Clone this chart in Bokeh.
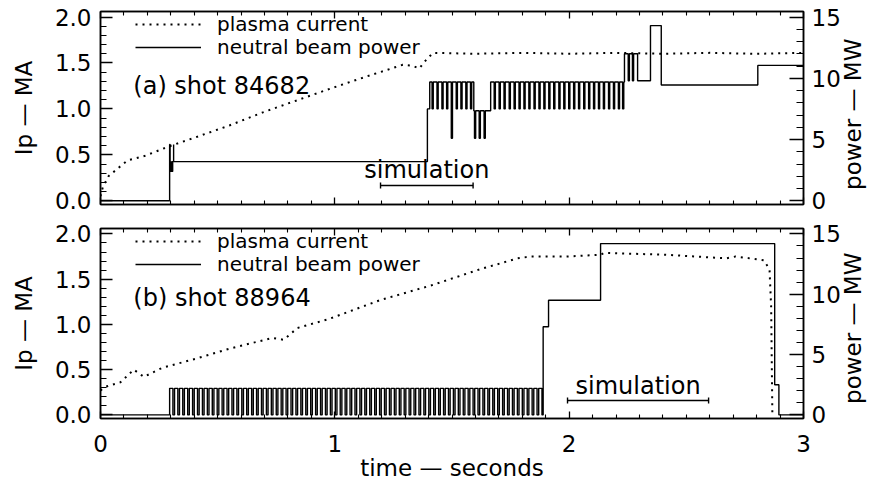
import math
from bokeh.plotting import figure
from bokeh.models import (Range1d, LinearAxis, FixedTicker, Label, Legend,
                          LegendItem, PrintfTickFormatter)
from bokeh.layouts import column
from bokeh.embed import file_html
from bokeh.resources import INLINE

FONT = "DejaVu Sans"

# ---------------- data ----------------
# panel (a) shot 84682 : plasma current (MA)
a_ip_t = [0.0, 0.01, 0.035, 0.115, 0.19, 0.29, 0.405, 0.55, 0.69, 0.79, 0.98, 1.12,
          1.29, 1.33, 1.36, 1.395, 1.42, 1.6, 1.8, 2.0, 2.2, 2.4, 2.6, 2.8, 3.0]
a_ip_v = [0.05, 0.15, 0.27, 0.44, 0.49, 0.59, 0.69, 0.82, 0.96, 1.05, 1.22, 1.34,
          1.48, 1.47, 1.44, 1.55, 1.61, 1.60, 1.61, 1.60, 1.61, 1.60, 1.61, 1.60, 1.61]
# panel (a) neutral beam power (MW): level changes
a_beam_t = [0.0, 0.295, 0.297, 0.312, 1.395, 1.405, 1.593, 1.665, 2.236, 2.292, 2.347, 2.393, 2.805]
a_beam_p = [0.0, 4.6, 3.2, 4.6, 7.5, 9.7, 7.35, 9.7, 12.0, 9.8, 14.3, 9.45, 11.05]
# panel (a) short beam dips (time, level during dip)
a_dip_t = [0.299, 0.303, 0.307,
           1.415, 1.436, 1.457, 1.477, 1.497, 1.518, 1.538, 1.559, 1.579,
           1.596, 1.616, 1.637,
           1.680, 1.701, 1.722, 1.744, 1.765, 1.786, 1.807, 1.828, 1.850, 1.871,
           1.892, 1.913, 1.934, 1.956, 1.977, 1.998, 2.019, 2.040, 2.062, 2.083,
           2.104, 2.125, 2.146, 2.168, 2.189, 2.210, 2.228,
           2.252, 2.270]
a_dip_p = [2.4, 2.4, 2.4,
           7.5, 7.5, 7.5, 7.5, 5.1, 7.5, 7.5, 7.5, 7.5,
           5.1, 5.1, 5.1,
           7.5, 7.5, 7.5, 7.5, 7.5, 7.5, 7.5, 7.5, 7.5, 7.5,
           7.5, 7.5, 7.5, 7.5, 7.5, 7.5, 7.5, 7.5, 7.5, 7.5,
           7.5, 7.5, 7.5, 7.5, 7.5, 7.5, 7.5,
           9.8, 9.8]
a_sim = [1.195, 1.59]

# panel (b) shot 88964 : plasma current (MA)
b_ip_t = [0.0, 0.02, 0.085, 0.142, 0.185, 0.263, 0.405, 0.548, 0.733, 0.782, 0.84, 0.975,
          1.195, 1.41, 1.62, 1.78, 1.835, 1.985, 2.134, 2.15, 2.41, 2.67, 2.71, 2.83,
          2.855, 2.862, 2.867]
b_ip_v = [0.27, 0.31, 0.36, 0.50, 0.42, 0.52, 0.62, 0.73, 0.85, 0.83, 0.96, 1.06,
          1.27, 1.43, 1.61, 1.73, 1.75, 1.75, 1.77, 1.79, 1.77, 1.73, 1.75, 1.71,
          1.61, 1.19, 0.03]
# panel (b) neutral beam power (MW): level changes
b_beam_t = [0.0, 1.889, 1.912, 2.134, 2.877, 2.895]
b_beam_p = [0.0, 7.3, 9.5, 14.2, 2.5, 0.0]
# panel (b) modulated beam pulses (start times) and their level
b_pulse_t = [0.295, 0.316, 0.337, 0.358, 0.379, 0.400, 0.421, 0.442, 0.463, 0.484,
             0.505, 0.526, 0.547, 0.568, 0.589, 0.610, 0.631, 0.652, 0.673, 0.694,
             0.715, 0.736, 0.757, 0.778, 0.799, 0.820, 0.841, 0.862, 0.883, 0.904,
             0.925, 0.946, 0.967, 0.988, 1.009, 1.030, 1.051, 1.072, 1.093, 1.114,
             1.135, 1.156, 1.177, 1.198, 1.219, 1.240, 1.261, 1.282, 1.303, 1.324,
             1.345, 1.366, 1.387, 1.408, 1.429, 1.450, 1.471, 1.492, 1.513, 1.534,
             1.555, 1.576, 1.597, 1.618, 1.639, 1.660, 1.681, 1.702, 1.723, 1.744,
             1.765, 1.786, 1.807, 1.828, 1.849, 1.870]
b_pulse_p = 2.2
b_sim = [1.993, 2.595]

x_ticks = [0, 1, 2, 3]
ip_ticks = [0.0, 0.5, 1.0, 1.5, 2.0]
pw_ticks = [0, 5, 10, 15]

# ---------------- helpers ----------------
DIP_W = 0.005
PULSE_W = 0.014


def level_at(t, ts, ps):
    lv = ps[0]
    for tt, pp in zip(ts, ps):
        if tt <= t:
            lv = pp
    return lv


def step_path(events, t_end=3.0):
    events = sorted(events, key=lambda e: e[0])
    xs, ys = [], []
    prev = None
    for t, lv in events:
        if prev is not None:
            xs.append(t)
            ys.append(prev)
        xs.append(t)
        ys.append(lv)
        prev = lv
    xs.append(t_end)
    ys.append(prev)
    return xs, ys


a_events = list(zip(a_beam_t, a_beam_p))
for t, lv in zip(a_dip_t, a_dip_p):
    a_events.append((t, lv))
    a_events.append((t + DIP_W, level_at(t, a_beam_t, a_beam_p)))
a_bx, a_by = step_path(a_events)

b_events = list(zip(b_beam_t, b_beam_p))
for t in b_pulse_t:
    b_events.append((t, b_pulse_p))
    b_events.append((t + PULSE_W, 0.0))
b_bx, b_by = step_path(b_events)

minor_x = [i / 10 for i in range(0, 31) if i % 10]
minor_ip = [i / 10 for i in range(0, 21) if i % 5]
minor_pw = [i for i in range(0, 16) if i % 5]

TICK_FS = "23px"
TITLE_FS = "23px"


def style_axis(ax, tin, tmin, standoff=8, hidden=False):
    ax.major_tick_in = tin
    ax.major_tick_out = 0
    ax.minor_tick_in = tmin
    ax.minor_tick_out = 0
    ax.major_tick_line_width = 1.3
    ax.minor_tick_line_width = 1.1
    ax.axis_line_width = 1.5
    ax.axis_line_color = "black"
    ax.major_tick_line_color = "black"
    ax.minor_tick_line_color = "black"
    ax.major_label_text_font = FONT
    if hidden:
        ax.major_label_text_font_size = "1px"
        ax.major_label_text_color = None
        ax.major_label_standoff = 0
    else:
        ax.major_label_text_font_size = TICK_FS
        ax.major_label_text_color = "black"
        ax.major_label_standoff = standoff


def set_title(ax, text, standoff):
    ax.axis_label = text
    ax.axis_label_text_font = FONT
    ax.axis_label_text_font_size = TITLE_FS
    ax.axis_label_text_font_style = "normal"
    ax.axis_label_text_color = "black"
    ax.axis_label_standoff = standoff


def make_panel(ip_t, ip_v, bx, by, sim, shot_text, fh, btop, bbot,
               xlabels, shot_y, sim_y, simtxt_y, leg_off):
    p = figure(frame_width=703, frame_height=fh,
               x_range=Range1d(0, 3), y_range=Range1d(-0.04, 2.06),
               x_axis_type=None, y_axis_type=None,
               min_border_left=100, min_border_right=75,
               min_border_top=btop, min_border_bottom=bbot,
               output_backend="svg", toolbar_location=None)
    p.extra_y_ranges = {"power": Range1d(-0.3, 15.45)}
    p.background_fill_color = "white"
    p.border_fill_color = "white"
    p.outline_line_color = "black"
    p.outline_line_width = 1.5
    p.grid.visible = False

    # axes
    ly = LinearAxis(ticker=FixedTicker(ticks=ip_ticks, minor_ticks=minor_ip),
                    formatter=PrintfTickFormatter(format="%.1f"))
    style_axis(ly, 12, 6, standoff=9)
    set_title(ly, "Ip \u2014 MA", 15)
    p.add_layout(ly, "left")

    ry = LinearAxis(y_range_name="power",
                    ticker=FixedTicker(ticks=pw_ticks, minor_ticks=minor_pw))
    style_axis(ry, 14, 7, standoff=8)
    props = ry.properties()
    if "axis_label_orientation" in props and "axis_label_align" in props:
        # read bottom-to-top like the reference; text runs up from the axis start
        set_title(ry, "\u00a0\u00a0power \u2014 MW", 9)
        ry.axis_label_orientation = math.pi / 2
        ry.axis_label_align = "start"
    else:
        set_title(ry, "power \u2014 MW", 9)
    p.add_layout(ry, "right")

    bx_ax = LinearAxis(ticker=FixedTicker(ticks=x_ticks, minor_ticks=minor_x))
    if xlabels:
        style_axis(bx_ax, 7, 4, standoff=16)
        set_title(bx_ax, "time \u2014 seconds", 0)
    else:
        style_axis(bx_ax, 7, 4, hidden=True)
    p.add_layout(bx_ax, "below")

    tx_ax = LinearAxis(ticker=FixedTicker(ticks=x_ticks, minor_ticks=minor_x))
    style_axis(tx_ax, 7, 4, hidden=True)
    p.add_layout(tx_ax, "above")

    # data
    r_ip = p.line(ip_t, ip_v, line_color="black", line_width=2.0, line_dash="2 5")
    r_beam = p.line(bx, by, line_color="black", line_width=1.4, y_range_name="power")

    # simulation window
    sy = [sim_y, sim_y]
    p.line(sim, sy, line_color="black", line_width=1.6)
    p.scatter(sim, sy, marker="dash", angle=math.pi / 2, size=6,
              line_color="black", line_width=1.4)
    p.add_layout(Label(x=sum(sim) / 2, y=simtxt_y, text="simulation",
                       text_font=FONT, text_font_size="24px", text_color="black",
                       text_align="center", text_baseline="alphabetic"))

    # shot label
    p.add_layout(Label(x=0.14, y=shot_y, text=shot_text, text_font=FONT,
                       text_font_size="24px", text_color="black",
                       text_baseline="alphabetic"))

    # legend: two single-item legends placed one under the other
    half = 11.6
    for i, (lab, rend) in enumerate([("plasma current", r_ip),
                                     ("neutral beam power", r_beam)]):
        lg = Legend(items=[LegendItem(label=lab, renderers=[rend])],
                    location=(35, fh - leg_off[i] - half),
                    border_line_color=None, background_fill_alpha=0,
                    padding=0, margin=0, spacing=0,
                    glyph_width=66, glyph_height=14, label_height=14,
                    label_standoff=16, label_text_font=FONT,
                    label_text_font_size="20px", label_text_color="black")
        p.add_layout(lg)
    return p


pa = make_panel(a_ip_t, a_ip_v, a_bx, a_by, a_sim, "(a) shot 84682",
                fh=193, btop=11, bbot=12, xlabels=False,
                shot_y=1.25, sim_y=0.167, simtxt_y=0.33, leg_off=(13, 36))
pb = make_panel(b_ip_t, b_ip_v, b_bx, b_by, b_sim, "(b) shot 88964",
                fh=190, btop=12, bbot=71, xlabels=True,
                shot_y=1.29, sim_y=0.159, simtxt_y=0.32, leg_off=(13, 36))

layout = column(pa, pb, spacing=0)
open("out.html", "w").write(file_html(layout, INLINE))
